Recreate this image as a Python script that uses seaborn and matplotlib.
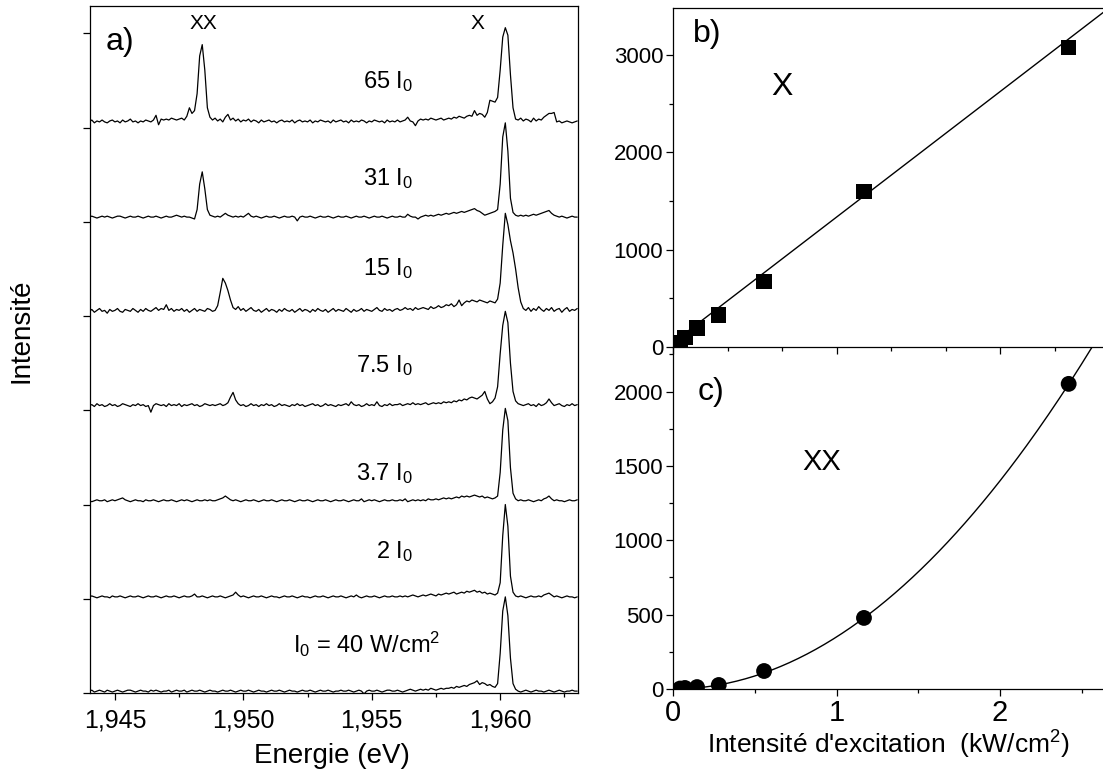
import numpy as np
import matplotlib
matplotlib.use("Agg")
import matplotlib.pyplot as plt
from matplotlib.ticker import MultipleLocator, FuncFormatter, NullFormatter, AutoMinorLocator
import seaborn as sns

# ---------------- data ----------------
# Panel a: spectra, energy grid start / step (eV), values in % of X peak
E_START = 1.9440
E_STEP = 0.0001

trace_labels = ["I$_0$ = 40 W/cm$^2$", "2 I$_0$", "3.7 I$_0$", "7.5 I$_0$", "15 I$_0$", "31 I$_0$", "65 I$_0$"]
trace_offsets = [0.02, 1.02, 2.04, 3.05, 4.05, 5.05, 6.06]
label_y = [0.42, 1.43, 2.26, 3.40, 4.43, 5.39, 6.42]

spec_I0 = [
    0, 1, -1, 0, 1, 0, -1, 1, 0, -1,
    0, 1, 0, -1, 0, 1, 1, 0, -1, 0,
    1, 0, 0, -1, 1, 0, 1, 0, -1, 0,
    0, 1, -1, 0, 1, 0, 0, 1, -1, 0,
    1, 0, 0, 1, 0, -1, 0, 1, 0, 0,
    -1, 0, 1, 0, 0, 1, 0, -1, 0, 1,
    0, 0, 1, 0, -1, 0, 1, 0, 0, -1,
    0, 1, 0, 0, 1, 0, -1, 0, 1, 0,
    0, -1, 0, 1, 0, 0, 1, 0, -1, 0,
    1, 0, 0, 1, 0, -1, 0, 0, 1, 0,
    0, 1, 0, -1, 0, 1, 0, -3, 0, 1,
    0, 0, 1, 0, -1, 0, 1, 1, 0, 0,
    1, 0, -1, 0, 1, 2, 1, 0, 1, 2,
    1, 2, 1, 3, 2, 1, 2, 3, 2, 3,
    3, 4, 3, 5, 4, 5, 6, 5, 7, 8,
    9, 11, 7, 9, 8, 6, 7, 5, 4, 8,
    40, 85, 100, 80, 35, 8, 2, 0, -1, 0,
    1, 0, -1, 0, 1, 0, 0, -1, 0, 1,
    0, -1, 0, 1, 0, -1, 0, 0, 1, 0,
    0]

spec_2I0 = [
    0, 1, 0, -1, 0, 1, 0, 0, -1, 1,
    0, 0, 1, 0, -1, 0, 1, 0, 0, 1,
    0, -1, 0, 1, 0, 0, 1, 0, -1, 0,
    1, 0, 0, 1, 0, -1, 0, 1, 0, 0,
    1, 3, 0, 0, 1, 0, -1, 0, 1, 0,
    0, 1, 0, -1, 0, 1, 2, 5, 2, 0,
    1, 0, -1, 0, 1, 0, 0, 1, 0, -1,
    0, 1, 0, 0, -1, 0, 1, 0, 0, 1,
    0, -1, 0, 1, 0, 0, -1, 0, 1, 0,
    0, 1, 0, -1, 0, 1, 0, 0, 1, 0,
    -1, 0, 1, 0, 2, 0, -1, 0, 1, 0,
    0, 1, 0, -1, 0, 1, 0, 0, 1, 0,
    0, 1, 0, 1, 0, 1, 2, 1, 0, 1,
    2, 1, 2, 3, 2, 1, 3, 2, 3, 4,
    3, 4, 5, 3, 4, 5, 4, 6, 5, 6,
    7, 5, 6, 4, 5, 3, 4, 3, 2, 4,
    15, 65, 98, 75, 22, 5, 1, 0, 1, 0,
    -1, 0, 1, 0, 0, 1, 0, 2, 3, 4,
    2, 0, 1, 0, -1, 0, 1, 0, 0, -1,
    0]

spec_3p7I0 = [
    0, -1, 0, 1, 0, 0, 1, -1, 0, 1,
    0, 1, 2, 3, 1, 0, -1, 0, 1, 0,
    0, -1, 1, 0, 0, 1, 0, -1, 0, 1,
    0, 0, 1, 0, -1, 0, 1, 0, 1, 0,
    -1, 0, 1, 0, 0, 1, 0, 1, 0, 0,
    1, 2, 3, 5, 3, 1, 0, 1, 0, -1,
    0, 1, 0, 0, 1, 0, -1, 0, 1, 0,
    0, 1, 0, -1, 0, 1, 0, 0, 1, 0,
    -1, 0, 1, 0, 0, 1, 0, -1, 0, 1,
    0, 0, 1, 0, -1, 0, 1, 0, 0, 1,
    0, -1, 0, 1, 0, 0, 2, -1, 0, 1,
    0, 1, 0, -1, 0, 1, 0, 0, 1, 0,
    0, 1, 0, 2, -1, 0, 1, 0, 1, 0,
    1, 0, 2, 1, 1, 2, 1, 2, 3, 2,
    3, 2, 3, 4, 3, 5, 4, 5, 4, 5,
    6, 5, 4, 5, 3, 4, 3, 2, 3, 5,
    30, 75, 98, 85, 35, 8, 2, 0, 1, 0,
    0, 1, 0, -1, 0, 1, 0, 2, 3, 5,
    2, 0, 1, 0, 0, -1, 0, 1, 0, 0,
    1]

spec_7p5I0 = [
    0, 1, -1, 2, 0, 1, -1, 0, 2, 0,
    1, -1, 0, 2, 1, 0, -1, 1, 0, 2,
    0, 1, -1, 0, -7, 0, 2, 1, 0, 1,
    -1, 2, 0, 1, 0, 2, -1, 1, 0, 1,
    2, 0, 1, -1, 0, 2, 1, 0, 1, 0,
    1, 2, 0, 1, 3, 9, 14, 6, 2, 0,
    1, -1, 0, 2, 0, 1, -1, 1, 0, 2,
    0, 1, -1, 0, 2, 0, 1, 0, -1, 1,
    0, 2, 0, 1, -1, 0, 1, 2, 0, 1,
    -1, 0, 2, 0, 1, 0, -1, 1, 0, 1,
    2, 0, 4, 1, 0, 1, -1, 0, 2, 0,
    1, 0, 4, 0, -1, 1, 0, 2, 0, 1,
    1, 2, 0, 1, 2, 1, 3, 1, 2, 1,
    2, 3, 1, 2, 3, 2, 3, 2, 4, 3,
    4, 3, 5, 4, 6, 5, 7, 6, 8, 9,
    8, 7, 9, 11, 15, 7, 2, 4, 8, 20,
    55, 85, 100, 88, 45, 15, 5, 2, 1, 0,
    1, 2, 0, 1, -1, 2, 0, 1, 3, 7,
    3, 0, 1, 2, 0, -1, 1, 0, 2, 0,
    1]

spec_15I0 = [
    0, 2, -1, 1, 3, 0, 1, -2, 2, 0,
    1, 3, 0, -1, 2, 1, 0, 3, 1, -1,
    2, 0, 3, 1, 0, 2, 4, 1, 3, 2,
    7, 1, 3, 0, 2, 1, 3, 0, 2, -1,
    1, 3, 0, 2, 1, 0, 3, 2, 0, 1,
    6, 20, 35, 30, 22, 12, 4, 2, 5, 1,
    3, 0, 2, 4, 1, 0, 2, -1, 1, 3,
    0, 2, 1, -1, 2, 0, 3, 1, 0, 2,
    -1, 1, 3, 0, 2, 1, -1, 2, 0, 3,
    1, 0, 2, -1, 1, 3, 0, 2, 1, 0,
    3, 1, -1, 2, 0, 1, 3, 0, 2, 1,
    0, 2, 4, 1, 0, 3, 1, 2, 0, 2,
    3, 1, 2, 4, 2, 3, 1, 4, 2, 3,
    4, 3, 2, 5, 3, 4, 6, 4, 5, 7,
    6, 8, 5, 7, 12, 6, 9, 11, 10, 12,
    11, 10, 12, 11, 10, 9, 11, 10, 9, 13,
    30, 70, 104, 92, 75, 62, 45, 25, 10, 3,
    1, 4, 0, 3, 1, 5, 2, 0, 3, 1,
    4, 0, 2, 3, -1, 2, 4, 0, 2, 1,
    3]

spec_31I0 = [
    0, 1, 0, -1, 0, 1, 0, 1, 0, -1,
    0, 1, 1, 0, -1, 0, 1, 0, 0, 1,
    0, -1, 0, 1, 0, 0, 1, 0, -1, 0,
    1, 0, 0, 1, 2, 1, 0, 1, 0, 0,
    -1, -2, 8, 35, 48, 30, 8, 2, 1, 0,
    1, 0, 2, 4, 2, 1, 0, 1, 0, 1,
    0, 2, 4, 1, 0, 1, 0, -1, 0, 1,
    0, 0, 1, 0, -1, 0, 1, 0, 0, 1,
    0, -4, 0, 1, 0, 0, 1, 0, -1, 0,
    1, 0, 0, 1, 0, -1, 0, 1, 0, 0,
    1, 0, -1, 0, 1, 0, 0, 1, 0, -1,
    0, 1, 0, 0, 1, 0, -1, 0, 1, 0,
    0, 1, 0, 0, 3, 1, 0, 0, -2, 0,
    1, 2, 1, 2, 1, 2, 3, 2, 3, 4,
    3, 4, 5, 4, 5, 6, 5, 6, 7, 8,
    9, 7, 6, 4, 2, 3, 4, 5, 6, 8,
    35, 85, 100, 70, 20, 5, 2, 1, 2, 1,
    2, 1, 2, 3, 2, 3, 4, 5, 6, 7,
    4, 2, 1, 0, 1, 0, -1, 0, 1, 0,
    0]

spec_65I0 = [
    0, 2, -1, 1, 0, 2, 0, -1, 1, 2,
    0, 1, -1, 2, 0, 1, 3, 0, 1, -1,
    1, 0, 2, 1, 0, 2, 7, -3, 3, 2,
    3, 2, 4, 3, 2, 3, 4, 2, 6, 15,
    9, 12, 30, 70, 82, 55, 15, 5, 2, 4,
    1, 3, 0, 5, 8, 2, 4, 1, 3, 0,
    2, 1, 3, 0, 2, 1, -1, 2, 0, 1,
    2, 0, 1, -1, 1, 2, 0, 1, 0, 2,
    -1, 1, 2, 0, 1, 0, 2, -1, 1, 0,
    2, 1, 0, 1, -1, 2, 0, 1, 2, 0,
    1, -1, 2, 0, 1, 0, 2, 1, -1, 1,
    0, 2, 1, 0, 1, -1, 2, 0, 1, 0,
    2, 0, 1, 2, 5, 1, 0, -4, 1, 3,
    2, 3, 2, 4, 3, 2, 3, 4, 2, 3,
    4, 3, 5, 4, 6, 5, 4, 6, 7, 6,
    12, 7, 9, 8, 5, 10, 23, 22, 21, 26,
    55, 90, 100, 92, 50, 15, 3, 2, 4, 1,
    3, 2, 0, 4, 1, 3, 2, 5, 7, 9,
    9, 10, 0, 1, -1, 0, 1, 0, -1, 0,
    1]

spectra = [spec_I0, spec_2I0, spec_3p7I0, spec_7p5I0, spec_15I0, spec_31I0, spec_65I0]

# Panels b, c: integrated intensities vs excitation (kW/cm2)
x_excit = [0.043, 0.073, 0.147, 0.28, 0.557, 1.168, 2.42]
X_intensity = [50, 100, 195, 330, 670, 1595, 3075]
XX_excit = [0.043, 0.073, 0.147, 0.28, 0.557, 1.168, 2.42]
XX_intensity = [3, 7, 13, 27, 121, 478, 2052]

# fits
X_FIT_SLOPE = 1290.0
X_FIT_INTERCEPT = 45.0
XX_FIT_COEF = 350.0
XX_FIT_EXP = 2.0

# ---------------- style ----------------
sns.set_theme(style="ticks")
plt.rcParams["font.family"] = ["Liberation Sans", "DejaVu Sans"]
plt.rcParams["mathtext.fontset"] = "custom"
plt.rcParams["mathtext.rm"] = "Liberation Sans"
plt.rcParams["mathtext.it"] = "Liberation Sans:italic"
plt.rcParams["mathtext.default"] = "regular"
plt.rcParams["axes.linewidth"] = 0.9
plt.rcParams["axes.edgecolor"] = "black"
plt.rcParams["xtick.color"] = "black"
plt.rcParams["ytick.color"] = "black"
plt.rcParams["text.color"] = "black"

W, H = 1103, 775
fig = plt.figure(figsize=(W / 100, H / 100), dpi=100)
fig.patch.set_facecolor("white")

axa = fig.add_axes([90 / W, 1 - 693 / H, 488 / W, 687 / H])
axc = fig.add_axes([673 / W, 1 - 689 / H, 437 / W, 342 / H])
axb = fig.add_axes([673 / W, 1 - 347 / H, 437 / W, 339 / H])
axc.patch.set_facecolor("none")
axb.patch.set_facecolor("none")

# ---------------- panel a ----------------
energy = E_START + E_STEP * np.arange(len(spec_I0))
for sp, off in zip(spectra, trace_offsets):
    sns.lineplot(x=energy, y=off + np.asarray(sp) / 100.0, ax=axa, color="black",
                 linewidth=0.9, estimator=None, sort=False)

axa.set_xlim(1.94403, 1.96303)
axa.set_ylim(0, 7.29)
axa.xaxis.set_major_locator(MultipleLocator(0.005))
axa.xaxis.set_minor_locator(MultipleLocator(0.0025))
axa.xaxis.set_major_formatter(FuncFormatter(lambda v, _: f"{v:.3f}".replace(".", ",")))
axa.yaxis.set_major_locator(MultipleLocator(1))
axa.yaxis.set_major_formatter(NullFormatter())
axa.tick_params(axis="x", which="major", labelsize=18, length=5, width=0.9, pad=6, direction="out")
axa.tick_params(axis="x", which="minor", length=3, width=0.9, direction="out")
axa.tick_params(axis="y", which="major", length=5, width=0.9, direction="out")
axa.set_xlabel("")
axa.set_ylabel("")

for lab, ly in zip(trace_labels, label_y):
    xr = 1.95766 if lab.startswith("I$") else 1.95660
    axa.text(xr, ly, lab, ha="right", va="baseline", fontsize=17)

axa.text(0.031, 0.948, "a)", transform=axa.transAxes, fontsize=23, ha="left", va="center")
axa.text(0.2316, 0.975, "XX", transform=axa.transAxes, fontsize=15, ha="center", va="center")
axa.text(0.795, 0.975, "X", transform=axa.transAxes, fontsize=15, ha="center", va="center")

fig.text(332 / W, 1 - 756 / H, "Energie (eV)", ha="center", va="center", fontsize=20)
fig.text(22 / W, 1 - 331 / H, "Intensité", ha="center", va="center", fontsize=20, rotation=90)

# ---------------- panel b ----------------
xmax_bc = 437 / 163.5
xfit = np.linspace(0, xmax_bc, 50)
sns.lineplot(x=xfit, y=X_FIT_SLOPE * xfit + X_FIT_INTERCEPT, ax=axb, color="black",
             linewidth=1.0, estimator=None)
sns.scatterplot(x=x_excit, y=X_intensity, ax=axb, marker="s", s=120, color="black",
                edgecolor="none", zorder=3)
axb.set_xlim(0, xmax_bc)
axb.set_ylim(0, 3485)
axb.xaxis.set_major_locator(MultipleLocator(1))
axb.xaxis.set_minor_locator(AutoMinorLocator(3))
axb.xaxis.set_major_formatter(NullFormatter())
axb.yaxis.set_major_locator(MultipleLocator(1000))
axb.yaxis.set_minor_locator(MultipleLocator(500))
axb.tick_params(axis="both", which="major", length=5, width=0.9, direction="out", labelsize=16, pad=2)
axb.tick_params(axis="both", which="minor", length=3, width=0.9, direction="out")
axb.spines["right"].set_visible(False)
axb.set_xlabel("")
axb.set_ylabel("")
axb.text(0.046, 0.923, "b)", transform=axb.transAxes, fontsize=23, ha="left", va="center")
axb.text(0.25, 0.767, "X", transform=axb.transAxes, fontsize=23, ha="center", va="center")

# ---------------- panel c ----------------
xfit2 = np.linspace(0, xmax_bc, 200)
sns.lineplot(x=xfit2, y=XX_FIT_COEF * xfit2 ** XX_FIT_EXP, ax=axc, color="black",
             linewidth=1.0, estimator=None)
sns.scatterplot(x=XX_excit, y=XX_intensity, ax=axc, marker="o", s=130, color="black",
                edgecolor="none", zorder=3)
axc.set_xlim(0, xmax_bc)
axc.set_ylim(0, 2300)
axc.xaxis.set_major_locator(MultipleLocator(1))
axc.xaxis.set_minor_locator(MultipleLocator(0.5))
axc.yaxis.set_major_locator(MultipleLocator(500))
axc.yaxis.set_minor_locator(MultipleLocator(250))
axc.tick_params(axis="both", which="major", length=5, width=0.9, direction="out", pad=2)
axc.tick_params(axis="both", which="minor", length=3, width=0.9, direction="out")
axc.tick_params(axis="y", which="major", labelsize=16)
axc.tick_params(axis="x", which="major", labelsize=21)
axc.spines["right"].set_visible(False)
axc.spines["top"].set_visible(False)
axc.set_xlabel("")
axc.set_ylabel("")
axc.text(0.057, 0.868, "c)", transform=axc.transAxes, fontsize=23, ha="left", va="center")
axc.text(0.341, 0.664, "XX", transform=axc.transAxes, fontsize=21, ha="center", va="center")

fig.text(888 / W, 1 - 745 / H, "Intensité d'excitation  (kW/cm$^2$)", ha="center", va="center", fontsize=19)

fig.savefig("out.png", dpi=100, facecolor="white")
